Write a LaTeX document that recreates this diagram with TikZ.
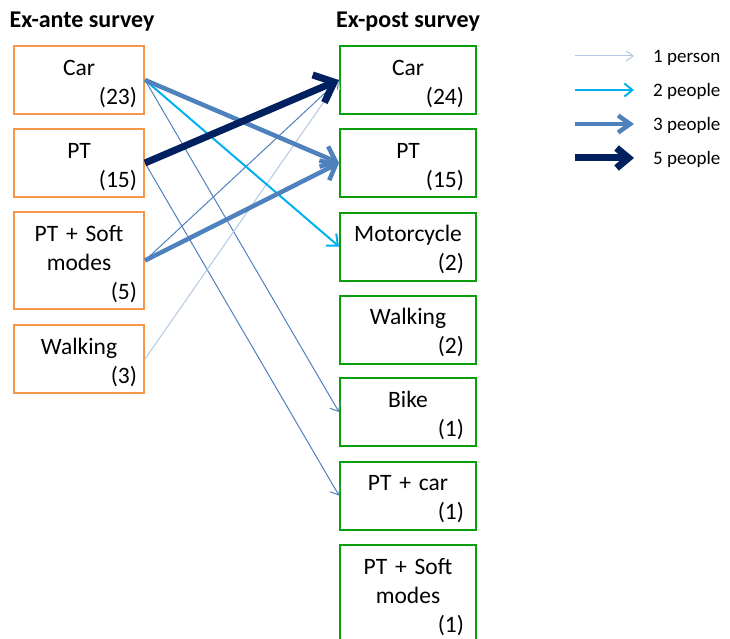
\documentclass[tikz,border=0pt]{standalone}
\usepackage{fontspec}
\setmainfont{Carlito}
\usetikzlibrary{arrows.meta}

\definecolor{anteorange}{HTML}{F79646}
\definecolor{postgreen}{HTML}{0A9E0A}
\definecolor{onecol}{HTML}{B4C7E7}
\definecolor{twocol}{HTML}{00B0F0}
\definecolor{threecol}{HTML}{4F81BD}
\definecolor{fivecol}{HTML}{002060}

% count shown flush right on the last line of a box
\newcommand\nresp[1]{\\\mbox{}\hskip 0pt plus 1filll(#1)}

\tikzset{
  modebox/.style={line width=2pt, minimum height=68pt, align=center,
    execute at begin node={\rule{0pt}{23pt}}},
  ante/.style={modebox, draw=anteorange, minimum width=130pt, inner xsep=7pt, text width=116pt},
  post/.style={modebox, draw=postgreen, minimum width=136pt, inner xsep=12pt, text width=112pt},
  title/.style={font=\fontsize{24}{28}\selectfont\bfseries, anchor=base},
  p1/.style={draw=onecol, line width=1pt, -{Straight Barb[length=7pt,width=12pt]}},
  pthin/.style={draw=threecol, line width=1pt, -{Straight Barb[length=7pt,width=12pt]}},
  p2/.style={draw=twocol, line width=2pt, -{Straight Barb[length=9pt,width=16pt]}},
  p3/.style={draw=threecol, line width=4.5pt, -{Straight Barb[length=13pt,width=22pt]}},
  p5/.style={draw=fivecol, line width=7pt, -{Straight Barb[length=17pt,width=30pt]}}
}

\begin{document}
\begin{tikzpicture}[x=1pt, y=-1pt, font=\fontsize{23.5}{29}\selectfont]
  \useasboundingbox (0,0) rectangle (730,639);

  \node[title] (antetitle) at (82,28) {Ex-ante survey};
  \node[title] (posttitle) at (408,28) {Ex-post survey};

  % ex-ante
  \node[ante] (aCar) at (79,80) {Car\nresp{23}};
  \node[ante] (aPT) at (79,163) {PT\nresp{15}};
  \node[ante, minimum height=97pt] (aPTsoft) at (79,260.5) {PT + Soft\\modes\nresp{5}};
  \node[ante] (aWalk) at (79,359) {Walking\nresp{3}};

  % ex-post
  \node[post] (pCar) at (408,80) {Car\nresp{24}};
  \node[post] (pPT) at (408,163) {PT\nresp{15}};
  \node[post] (pMoto) at (408,246.5) {Motorcycle\nresp{2}};
  \node[post] (pWalk) at (408,329.5) {Walking\nresp{2}};
  \node[post] (pBike) at (408,412) {Bike\nresp{1}};
  \node[post] (pPTcar) at (408,495.5) {PT + car\nresp{1}};
  \node[post, minimum height=98pt] (pPTsoft) at (408,594) {PT + Soft\\modes\nresp{1}};

  % shifts
  \draw[pthin] (aCar.east) -- (pBike.west);
  \draw[pthin] (aPT.east) -- (pPTcar.west);
  \draw[pthin] (aPTsoft.east) -- (pCar.west);
  \draw[p1] (aWalk.east) -- (pCar.west);
  \draw[p2] (aCar.east) -- (pMoto.west);
  \draw[p3] (aCar.east) -- (pPT.west);
  \draw[p3] (aPTsoft.east) -- (pPT.west);
  \draw[p5] (aPT.east) -- (pCar.west);

  % legend
  \foreach \sty/\txt/\y/\hl/\hw in {p1/1 person/56/7/10, p2/2 people/90/8/13,
      p3/3 people/124/12/17, p5/5 people/158/12/20} {
    \coordinate (ls\sty) at (575,\y);
    \coordinate (le\sty) at (634,\y);
    \draw[\sty, -{Straight Barb[length=\hl pt,width=\hw pt]}] (ls\sty) -- (le\sty);
    \node[anchor=base west, inner sep=0pt, font=\fontsize{19}{22}\selectfont] (lt\sty) at (653,\y+6.5) {\txt};
  }
\end{tikzpicture}
\end{document}
